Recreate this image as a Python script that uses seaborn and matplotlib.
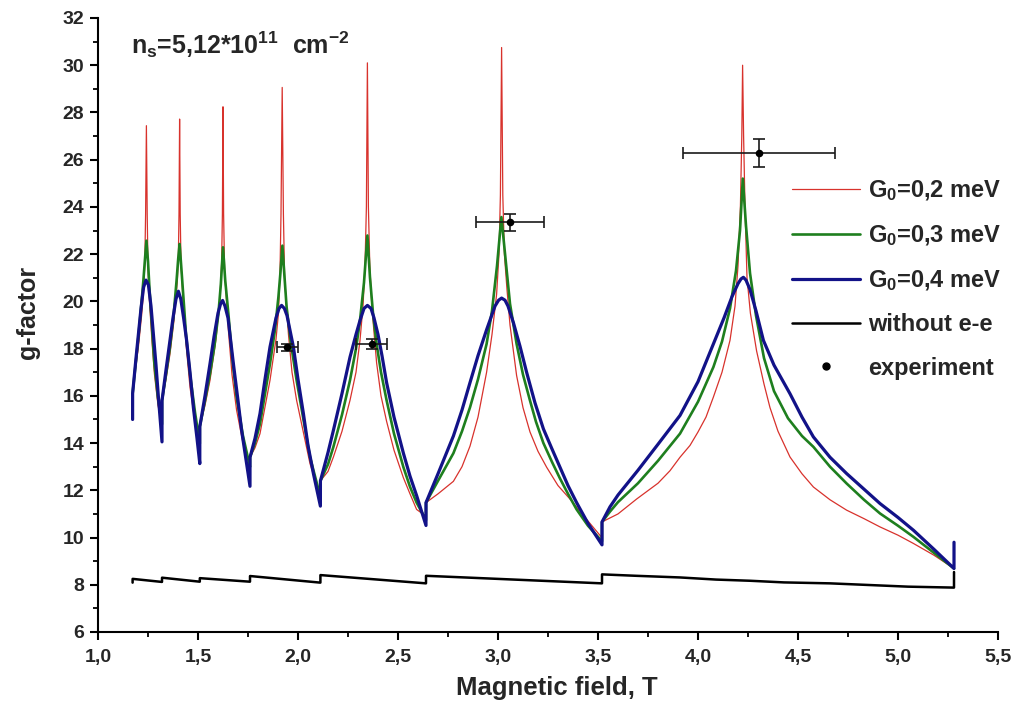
import matplotlib
matplotlib.use("Agg")
import matplotlib.pyplot as plt
from matplotlib.lines import Line2D
from matplotlib.ticker import MultipleLocator, FuncFormatter
import seaborn as sns
import pandas as pd

# ---- data: g-factor vs magnetic field (T) ----
b_g02 = [1.173, 1.19, 1.202, 1.218, 1.227, 1.234, 1.238, 1.242, 1.246, 1.25, 1.257, 1.27, 1.282, 1.300, 1.320,
         1.3201, 1.34, 1.36, 1.38, 1.397, 1.402, 1.405, 1.408, 1.411, 1.415, 1.427, 1.44, 1.46, 1.485, 1.509,
         1.5091, 1.535, 1.56, 1.59, 1.61, 1.618, 1.622, 1.625, 1.628, 1.633, 1.652, 1.67, 1.693, 1.725, 1.760,
         1.7601, 1.785, 1.81, 1.86, 1.89, 1.902, 1.91, 1.915, 1.921, 1.927, 1.933, 1.952, 1.97, 1.993, 2.06, 2.112,
         2.1121, 2.15, 2.177, 2.22, 2.26, 2.29, 2.31, 2.325, 2.335, 2.342, 2.347, 2.352, 2.359, 2.37,
         2.393, 2.415, 2.443, 2.48, 2.527, 2.56, 2.593, 2.640,
         2.6401, 2.70, 2.777, 2.82, 2.86, 2.90, 2.943, 2.97, 2.993, 3.005, 3.012, 3.018, 3.024, 3.032,
         3.045, 3.06, 3.093, 3.125, 3.16, 3.2, 3.243, 3.3, 3.36, 3.44, 3.520,
         3.5201, 3.6, 3.693, 3.8, 3.86, 3.91, 3.96, 4.0, 4.04, 4.077, 4.12, 4.16, 4.185, 4.20, 4.212,
         4.219, 4.223, 4.228, 4.235, 4.245, 4.262, 4.293, 4.33, 4.36, 4.40, 4.46, 4.52, 4.577, 4.66,
         4.743, 4.83, 4.91, 5.0, 5.077, 5.18, 5.280]
g_g02 = [16.2, 17.3, 18.07, 19.4, 20.3, 21.6, 23.7, 27.44, 23.7, 21.4, 20.04, 18.3, 16.94, 15.6, 14.75,
         15.8, 16.7, 17.78, 19.2, 20.9, 22.0, 23.7, 27.72, 23.7, 21.6, 19.76, 18.2, 16.37, 14.9, 13.9,
         14.7, 15.6, 16.66, 18.4, 20.18, 21.6, 23.7, 28.24, 23.7, 21.3, 18.77, 16.9, 15.39, 14.0, 12.99,
         13.4, 13.8, 14.4, 16.66, 18.4, 19.47, 21.2, 23.7, 29.06, 23.7, 21.0, 18.63, 17.0, 15.81, 13.13, 11.72,
         12.4, 12.8, 13.41, 14.5, 15.81, 17.0, 18.35, 19.8, 21.5, 24.0, 30.1, 24.0, 21.5, 19.7,
         17.4, 16.0, 14.92, 13.7, 12.53, 11.85, 11.19, 10.9,
         11.48, 11.85, 12.38, 13.0, 13.87, 15.1, 17.0, 18.6, 20.3, 22.0, 24.5, 30.75, 24.5, 22.0,
         20.5, 19.0, 16.86, 15.5, 14.47, 13.65, 12.98, 12.2, 11.63, 10.8, 9.99,
         10.66, 11.0, 11.63, 12.3, 12.83, 13.4, 13.9, 14.47, 15.1, 15.95, 17.0, 18.35, 19.8, 21.5, 24.0,
         27.0, 30.0, 27.0, 24.0, 21.0, 19.5, 17.9, 16.5, 15.5, 14.5, 13.41, 12.7, 12.14, 11.6,
         11.16, 10.8, 10.45, 10.1, 9.75, 9.25, 8.69]

b_g03 = [1.173, 1.19, 1.202, 1.215, 1.227, 1.235, 1.242, 1.25, 1.257, 1.27, 1.282, 1.300, 1.320,
         1.3201, 1.34, 1.36, 1.378, 1.393, 1.401, 1.408, 1.416, 1.427, 1.44, 1.46, 1.485, 1.509,
         1.5091, 1.535, 1.56, 1.582, 1.602, 1.614, 1.625, 1.636, 1.652, 1.67, 1.693, 1.725, 1.760,
         1.7601, 1.785, 1.81, 1.86, 1.885, 1.902, 1.912, 1.922, 1.932, 1.943, 1.965, 1.993, 2.06, 2.112,
         2.1121, 2.15, 2.177, 2.22, 2.26, 2.29, 2.31, 2.33, 2.347, 2.36, 2.375, 2.393, 2.415, 2.443,
         2.48, 2.527, 2.56, 2.593, 2.640,
         2.6401, 2.70, 2.777, 2.82, 2.86, 2.90, 2.943, 2.97, 2.995, 3.017, 3.04, 3.06, 3.093, 3.125,
         3.16, 3.19, 3.227, 3.27, 3.31, 3.35, 3.393, 3.45, 3.520,
         3.5201, 3.56, 3.6, 3.7, 3.8, 3.91, 4.0, 4.077, 4.12, 4.16, 4.19, 4.21, 4.224, 4.24, 4.26,
         4.29, 4.33, 4.38, 4.45, 4.52, 4.577, 4.66, 4.743, 4.83, 4.91, 5.0, 5.077, 5.18, 5.280]
g_g03 = [16.1, 17.5, 18.5, 19.7, 20.9, 21.8, 22.57, 21.7, 20.6, 18.9, 17.36, 15.9, 14.8,
         15.8, 16.9, 18.07, 19.4, 20.9, 21.8, 22.43, 21.5, 20.18, 18.6, 16.94, 15.3, 13.98,
         14.7, 15.8, 16.94, 18.1, 19.47, 20.7, 22.29, 20.9, 19.47, 17.7, 15.95, 14.3, 12.99,
         13.4, 14.0, 14.82, 17.36, 18.8, 20.18, 21.2, 22.36, 21.1, 19.76, 18.2, 16.66, 13.41, 11.72,
         12.4, 13.1, 13.84, 15.2, 16.66, 18.0, 19.19, 20.8, 22.79, 21.0, 19.5, 18.2, 17.0, 15.81,
         14.4, 12.98, 12.15, 11.48, 10.74,
         11.48, 12.4, 13.57, 14.5, 15.51, 16.7, 18.2, 19.6, 21.5, 23.57, 21.6, 19.9, 18.2, 16.9,
         15.8, 14.9, 14.0, 13.2, 12.5, 11.85, 11.19, 10.5, 9.84,
         10.66, 11.1, 11.5, 12.3, 13.25, 14.4, 15.75, 17.22, 18.3, 19.7, 21.3, 23.0, 25.2, 23.2, 21.2,
         19.4, 17.6, 16.2, 15.05, 14.3, 13.84, 13.0, 12.29, 11.6, 11.02, 10.5, 10.03, 9.35, 8.69]

b_g04 = [1.173, 1.1731, 1.19, 1.202, 1.215, 1.228, 1.240, 1.252, 1.265, 1.277, 1.29, 1.302, 1.312, 1.320,
         1.3201, 1.34, 1.36, 1.375, 1.39, 1.402, 1.414, 1.428, 1.443, 1.46, 1.477, 1.495, 1.509,
         1.5091, 1.535, 1.56, 1.58, 1.60, 1.613, 1.623, 1.635, 1.65, 1.677, 1.70, 1.718, 1.74, 1.760,
         1.7601, 1.785, 1.81, 1.835, 1.86, 1.89, 1.905, 1.918, 1.932, 1.945, 1.977, 2.0, 2.027, 2.05, 2.077, 2.095, 2.112,
         2.1121, 2.15, 2.177, 2.22, 2.26, 2.29, 2.31, 2.33, 2.347, 2.365, 2.38, 2.40, 2.42, 2.443,
         2.48, 2.527, 2.56, 2.593, 2.640,
         2.6401, 2.70, 2.777, 2.82, 2.86, 2.90, 2.943, 2.985, 3.003, 3.018, 3.035, 3.05, 3.077, 3.11,
         3.143, 3.185, 3.227, 3.27, 3.31, 3.35, 3.393, 3.45, 3.520,
         3.5201, 3.56, 3.6, 3.7, 3.8, 3.91, 4.0, 4.077, 4.13, 4.17, 4.20, 4.215, 4.227, 4.24, 4.26,
         4.29, 4.327, 4.38, 4.46, 4.52, 4.577, 4.66, 4.743, 4.83, 4.91, 5.0, 5.077, 5.18, 5.280, 5.2801]
g_g04 = [15.0, 16.1, 17.6, 18.6, 19.7, 20.6, 20.9, 20.7, 19.8, 18.6, 17.3, 15.95, 14.9, 14.05,
         15.8, 17.1, 18.35, 19.3, 20.1, 20.43, 20.1, 19.3, 18.35, 17.0, 15.5, 14.2, 13.13,
         14.7, 16.0, 17.36, 18.5, 19.5, 19.9, 20.04, 19.8, 19.3, 17.36, 15.8, 14.54, 13.3, 12.17,
         13.4, 14.2, 15.25, 16.7, 18.07, 19.3, 19.7, 19.83, 19.7, 19.4, 18.07, 16.7, 15.25, 13.9, 12.71, 12.0, 11.33,
         12.4, 13.6, 14.54, 16.1, 17.64, 18.6, 19.19, 19.7, 19.83, 19.7, 19.3, 18.6, 17.7, 16.56,
         15.1, 13.57, 12.6, 11.78, 10.51,
         11.48, 12.7, 14.3, 15.4, 16.56, 17.7, 18.8, 19.8, 20.05, 20.14, 20.05, 19.8, 19.1, 18.1,
         17.0, 15.7, 14.6, 13.75, 12.98, 12.2, 11.48, 10.6, 9.69,
         10.66, 11.3, 11.8, 12.85, 13.95, 15.17, 16.6, 18.2, 19.3, 20.2, 20.75, 20.95, 21.02, 20.9, 20.5,
         19.6, 18.35, 17.3, 16.09, 15.1, 14.26, 13.4, 12.71, 12.05, 11.44, 10.85, 10.31, 9.5, 8.69, 9.8]

b_noee = [1.173, 1.1731, 1.320, 1.3201, 1.509, 1.5091, 1.760, 1.7601, 2.112, 2.1121,
          2.640, 2.6401, 3.520, 3.5201, 3.69, 3.91, 4.09, 4.26, 4.43, 4.66, 5.05, 5.280, 5.2801]
g_noee = [8.09, 8.25, 8.12, 8.30, 8.13, 8.28, 8.13, 8.37, 8.09, 8.41,
          8.06, 8.38, 8.06, 8.44, 8.38, 8.31, 8.22, 8.17, 8.10, 8.06, 7.92, 7.88, 8.54]

exp_b = [1.947, 2.368, 3.06, 4.305]
exp_g = [18.06, 18.2, 23.35, 26.28]
exp_b_err = [0.052, 0.078, 0.17, 0.38]
exp_g_err = [0.15, 0.22, 0.35, 0.6]

labels = [r"$\mathbf{G_0}$=0,2 meV", r"$\mathbf{G_0}$=0,3 meV",
          r"$\mathbf{G_0}$=0,4 meV", "without e-e", "experiment"]
colors = ["#d8322c", "#1e7f1e", "#121288", "#000000"]
widths = [0.9, 1.9, 2.3, 1.8]

# ---- style ----
sns.set_theme(style="white")
plt.rcParams["font.family"] = ["Liberation Sans", "DejaVu Sans"]
plt.rcParams["font.weight"] = "bold"
plt.rcParams["mathtext.fontset"] = "custom"
plt.rcParams["mathtext.rm"] = "Liberation Sans:bold"
plt.rcParams["mathtext.bf"] = "Liberation Sans:bold"

fig = plt.figure(figsize=(10.17, 7.16), dpi=100)
ax = fig.add_axes([98 / 1017, 84 / 716, 900 / 1017, 614 / 716])

series = [(b_g02, g_g02), (b_g03, g_g03), (b_g04, g_g04), (b_noee, g_noee)]
for (bx, gy), c, lw in zip(series, colors, widths):
    df = pd.DataFrame({"B": bx, "g": gy})
    sns.lineplot(data=df, x="B", y="g", sort=False, estimator=None,
                 color=c, linewidth=lw, ax=ax, legend=False)

ax.errorbar(exp_b, exp_g, xerr=exp_b_err, yerr=exp_g_err, fmt="none",
            ecolor="#1a1a1a", elinewidth=1.2, capsize=4, capthick=1.2, zorder=5)
sns.scatterplot(x=exp_b, y=exp_g, color="black", s=30, edgecolor="black",
                linewidth=0, ax=ax, zorder=6, legend=False)

# ---- axes ----
ax.set_xlim(1.0, 5.5)
ax.set_ylim(6, 32)
ax.xaxis.set_major_locator(MultipleLocator(0.5))
ax.xaxis.set_minor_locator(MultipleLocator(0.25))
ax.yaxis.set_major_locator(MultipleLocator(2))
ax.yaxis.set_minor_locator(MultipleLocator(1))
ax.xaxis.set_major_formatter(FuncFormatter(lambda v, p: f"{v:.1f}".replace(".", ",")))
ax.yaxis.set_major_formatter(FuncFormatter(lambda v, p: f"{int(round(v))}"))
for side in ["top", "right"]:
    ax.spines[side].set_visible(False)
for side in ["left", "bottom"]:
    ax.spines[side].set_color("black")
    ax.spines[side].set_linewidth(1.5)
ax.tick_params(which="major", direction="out", length=6, width=1.5,
               color="black", labelsize=14, bottom=True, left=True)
ax.tick_params(which="minor", direction="out", length=3.5, width=1.3,
               color="black", bottom=True, left=True)
ax.tick_params(axis="x", which="major", pad=6)
ax.tick_params(axis="y", which="major", pad=4)
for lab in ax.get_xticklabels() + ax.get_yticklabels():
    lab.set_fontweight("bold")
ax.grid(False)

ax.set_xlabel("Magnetic field, T", fontsize=18.5, fontweight="bold")
ax.set_ylabel("g-factor", fontsize=18, fontweight="bold")
ax.xaxis.set_label_coords(0.51, -0.092)
ax.xaxis.label.set_va("center")
ax.yaxis.set_label_coords(-0.078, 0.52)
ax.yaxis.label.set_va("center")

fig.text(131 / 1017, 1 - 45 / 716,
         r"$\mathbf{n_s}$=5,12*10$^{\mathbf{11}}$  cm$^{\mathbf{-2}}$",
         fontsize=18, fontweight="bold", ha="left", va="center")

handles = [Line2D([], [], color=c, lw=lw) for c, lw in zip(colors, widths)]
handles.append(Line2D([], [], color="black", marker="o", ms=5, lw=0))
fig.legend(handles, labels, loc="upper left",
           bbox_to_anchor=(792 / 1017, 1 - 178 / 716), frameon=False,
           fontsize=17, handlelength=2.9, handletextpad=0.34,
           labelspacing=0.86, borderpad=0, borderaxespad=0)

fig.savefig("out.png", dpi=100, facecolor="white")
